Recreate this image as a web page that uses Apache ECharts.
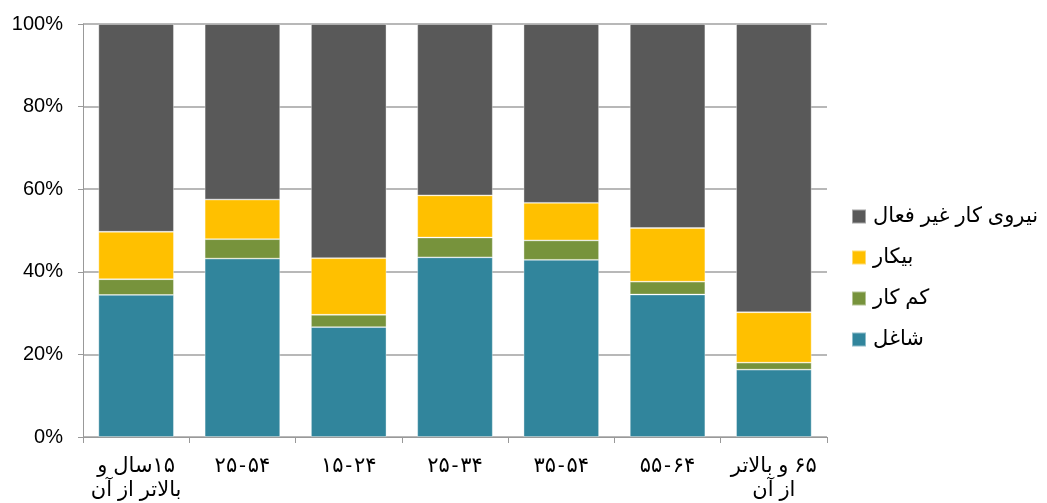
<!DOCTYPE html>
<html>
<head>
<meta charset="utf-8">
<script src="https://cdn.jsdelivr.net/npm/echarts@6/dist/echarts.min.js"></script>
<style>
  html, body { margin: 0; padding: 0; background: #ffffff; }
  #chart { width: 1047px; height: 503px; }
</style>
</head>
<body>
<div id="chart"></div>
<script>
// Age groups; RLE ... PDF lays the mixed Persian lines out right to left
const RLE = '\u202B', PDF = '\u202C', HAIR = '\u200A';
const categories = [
  RLE + '۱۵سال و' + PDF + '\n' + RLE + 'بالاتر از آن' + PDF,
  '۲۵' + HAIR + '-' + HAIR + '۵۴',
  '۱۵' + HAIR + '-' + HAIR + '۲۴',
  '۲۵' + HAIR + '-' + HAIR + '۳۴',
  '۳۵' + HAIR + '-' + HAIR + '۵۴',
  '۵۵' + HAIR + '-' + HAIR + '۶۴',
  RLE + '۶۵ و بالاتر' + PDF + '\n' + RLE + 'از آن' + PDF
];

// Shares of each group, in percent
const employed   = [34.4, 43.2, 26.6, 43.5, 42.9, 34.5, 16.3];  // شاغل
const underemp   = [3.8, 4.7, 3.0, 4.8, 4.7, 3.1, 1.7];         // کم کار
const unemployed = [11.5, 9.6, 13.7, 10.2, 9.1, 13.0, 12.2];    // بیکار
const inactive   = [50.3, 42.5, 56.7, 41.5, 43.3, 49.4, 69.8];  // نیروی کار غیر فعال

const seriesNames = ['شاغل', 'کم کار', 'بیکار', 'نیروی کار غیر فعال'];
const yTicks = [0, 20, 40, 60, 80, 100];

const colors = ['#31859C', '#77933C', '#FFC000', '#595959'];
const font = '"Liberation Sans", Arial, "DejaVu Sans", sans-serif';

const chart = echarts.init(document.getElementById('chart'), null, { renderer: 'canvas' });

const values = [employed, underemp, unemployed, inactive];
const series = seriesNames.map((name, i) => ({
  name: name,
  type: 'bar',
  stack: 'total',
  barCategoryGap: '29%',
  data: values[i],
  itemStyle: {
    color: colors[i],
    borderColor: 'rgba(255,255,255,0.45)',
    borderWidth: 0.8
  },
  emphasis: { disabled: true }
}));

chart.setOption({
  animation: false,
  backgroundColor: '#ffffff',
  color: colors,
  grid: { left: 83, right: 220, top: 24, bottom: 66, containLabel: false },
  legend: {
    orient: 'vertical',
    left: 846,
    top: 201,
    itemWidth: 14,
    itemHeight: 14,
    itemGap: 20,
    icon: 'rect',
    data: seriesNames.slice().reverse(),
    textStyle: { fontFamily: font, fontSize: 21, color: '#000000', padding: [0, 0, 0, 2] }
  },
  xAxis: {
    type: 'category',
    data: categories,
    axisLine: { show: true, lineStyle: { color: '#999999', width: 1 } },
    axisTick: { show: true, alignWithLabel: false, length: 6, lineStyle: { color: '#999999' } },
    axisLabel: {
      fontFamily: font,
      fontSize: 21,
      color: '#000000',
      margin: 17,
      lineHeight: 24,
      interval: 0
    },
    splitLine: { show: false }
  },
  yAxis: {
    type: 'value',
    min: yTicks[0],
    max: yTicks[yTicks.length - 1],
    interval: 20,
    axisLine: { show: true, lineStyle: { color: '#999999', width: 1 } },
    axisTick: { show: true, length: 5, lineStyle: { color: '#999999' } },
    axisLabel: {
      fontFamily: font,
      fontSize: 20,
      color: '#000000',
      margin: 20,
      formatter: v => v + '%'
    },
    splitLine: { show: true, lineStyle: { color: '#a0a0a0', width: 1.5 } }
  },
  series: series
});
</script>
</body>
</html>
